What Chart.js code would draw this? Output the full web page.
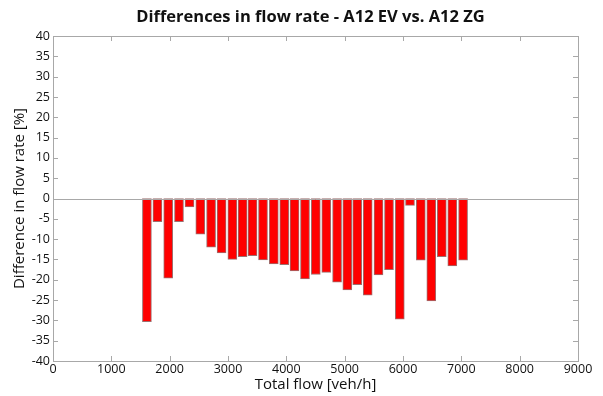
<!DOCTYPE html>
<html>
<head>
<meta charset="utf-8">
<script src="https://cdn.jsdelivr.net/npm/chart.js@4"></script>
<style>
  html, body { margin: 0; padding: 0; background: #fff; }
  #wrap { width: 603px; height: 396px; }
</style>
</head>
<body>
<div id="wrap"><canvas id="flowChart" width="603" height="396"></canvas></div>
<script>
// flow bins (veh/h) and difference in flow rate (%)
const totalFlow = [1610, 1790, 1975, 2160, 2340, 2525, 2710, 2890, 3075, 3250,
  3420, 3600, 3785, 3965, 4140, 4320, 4505, 4685, 4870, 5045,
  5215, 5395, 5580, 5760, 5945, 6120, 6305, 6485, 6665, 6845, 7030];
const flowDiff = [-30.3, -5.7, -19.6, -5.7, -2.1, -8.8, -12.0, -13.4, -15.0, -14.3,
  -14.1, -15.1, -16.1, -16.3, -17.8, -19.8, -18.7, -18.2, -20.6, -22.5,
  -21.2, -23.8, -18.8, -17.5, -29.7, -1.7, -15.2, -25.2, -14.3, -16.6, -15.2];
const xTicks = [0, 1000, 2000, 3000, 4000, 5000, 6000, 7000, 8000, 9000];
const yTicks = [-40, -35, -30, -25, -20, -15, -10, -5, 0, 5, 10, 15, 20, 25, 30, 35, 40];
const chartTitle = 'Differences in flow rate - A12 EV vs. A12 ZG';

const FONT = '"Open Sans", Tahoma, sans-serif';
const frameColor = '#a8a8a8';

// matlab style box with inward ticks, zero line and title over the axes
const boxPlugin = {
  id: 'boxPlugin',
  afterDatasetsDraw(chart) {
    const { ctx, chartArea: a, scales } = chart;
    ctx.save();
    ctx.strokeStyle = frameColor;
    ctx.lineWidth = 1;
    const y0 = Math.round(scales.y.getPixelForValue(0)) + 0.5;
    ctx.beginPath();
    ctx.moveTo(a.left, y0);
    ctx.lineTo(a.right, y0);
    ctx.stroke();
    ctx.strokeRect(Math.round(a.left) + 0.5, Math.round(a.top) + 0.5,
      Math.round(a.right - a.left), Math.round(a.bottom - a.top));
    const len = 5;
    ctx.beginPath();
    xTicks.forEach(v => {
      const x = Math.round(scales.x.getPixelForValue(v)) + 0.5;
      ctx.moveTo(x, a.bottom); ctx.lineTo(x, a.bottom - len);
      ctx.moveTo(x, a.top); ctx.lineTo(x, a.top + len);
    });
    yTicks.forEach(v => {
      const y = Math.round(scales.y.getPixelForValue(v)) + 0.5;
      ctx.moveTo(a.left, y); ctx.lineTo(a.left + len, y);
      ctx.moveTo(a.right, y); ctx.lineTo(a.right - len, y);
    });
    ctx.stroke();

    ctx.fillStyle = '#111';
    ctx.font = 'bold 16.5px ' + FONT;
    ctx.textAlign = 'center';
    ctx.textBaseline = 'middle';
    ctx.fillText(chartTitle, (a.left + a.right) / 2 - 5, a.top - 19);
    ctx.restore();
  }
};

const ctx = document.getElementById('flowChart').getContext('2d');
const flowChart = new Chart(ctx, {
  type: 'bar',
  data: {
    datasets: [{
      label: 'Difference',
      data: totalFlow.map((x, i) => ({ x: x, y: flowDiff[i] })),
      backgroundColor: '#ff0000',
      borderColor: '#9c7070',
      borderWidth: 1,
      borderSkipped: false,
      barThickness: 9
    }]
  },
  options: {
    responsive: false,
    animation: false,
    layout: { padding: { left: 0, right: 25, top: 36, bottom: 0 } },
    plugins: {
      legend: { display: false },
      tooltip: { enabled: false },
      title: { display: false }
    },
    scales: {
      x: {
        type: 'linear',
        offset: false,
        min: 0,
        max: 9000,
        afterFit: s => { s.height = 35; },
        afterBuildTicks: s => { s.ticks = xTicks.map(v => ({ value: v })); },
        grid: { display: false, drawTicks: false, tickLength: 0 },
        border: { display: false },
        ticks: {
          color: '#111', font: { family: FONT, size: 12.5 }, padding: 1, maxRotation: 0, autoSkip: false,
          callback: v => String(v)
        },
        title: {
          display: true,
          text: 'Total flow [veh/h]',
          color: '#111',
          font: { family: FONT, size: 15 },
          padding: { top: 0, bottom: 2 }
        }
      },
      y: {
        min: -40,
        max: 40,
        afterFit: s => { s.width = 53; },
        afterBuildTicks: s => { s.ticks = yTicks.map(v => ({ value: v })); },
        grid: { display: false, drawTicks: false, tickLength: 0 },
        border: { display: false },
        ticks: {
          color: '#111', font: { family: FONT, size: 12.5 }, padding: 3, autoSkip: false,
          callback: v => String(v)
        },
        title: {
          display: true,
          text: 'Difference in flow rate [%]',
          color: '#111',
          font: { family: FONT, size: 15 },
          padding: { top: 11, bottom: 0 }
        }
      }
    }
  },
  plugins: [boxPlugin]
});
</script>
</body>
</html>
